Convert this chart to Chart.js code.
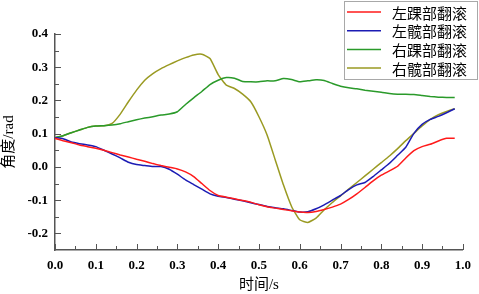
<!DOCTYPE html>
<html>
<head>
<meta charset="utf-8">
<script src="https://cdn.jsdelivr.net/npm/chart.js@4.4.0/dist/chart.umd.min.js"></script>
<style>
  html, body { margin: 0; padding: 0; background: #fff; }
  #wrap { width: 479px; height: 294px; }
</style>
</head>
<body>
<div id="wrap"><canvas id="chart"></canvas></div>
<script>
// time (s)
const times = [0, 0.02, 0.04, 0.06, 0.08, 0.10, 0.12, 0.14, 0.16, 0.18,
  0.20, 0.22, 0.24, 0.26, 0.28, 0.30, 0.32, 0.34, 0.36, 0.38,
  0.40, 0.42, 0.44, 0.46, 0.48, 0.50, 0.52, 0.54, 0.56, 0.58,
  0.60, 0.62, 0.64, 0.66, 0.68, 0.70, 0.72, 0.74, 0.76, 0.78,
  0.80, 0.82, 0.84, 0.86, 0.88, 0.90, 0.92, 0.94, 0.96, 0.98];

// angle (rad)
const leftAnkle = [0.086, 0.079, 0.073, 0.066, 0.061, 0.056, 0.050, 0.043, 0.036, 0.030,
  0.023, 0.017, 0.010, 0.004, -0.001, -0.006, -0.015, -0.029, -0.050, -0.071,
  -0.086, -0.091, -0.096, -0.101, -0.106, -0.114, -0.120, -0.124, -0.128, -0.132,
  -0.136, -0.137, -0.134, -0.128, -0.121, -0.112, -0.098, -0.081, -0.062, -0.042,
  -0.025, -0.012, 0.002, 0.027, 0.049, 0.061, 0.068, 0.078, 0.086, 0.086];

const leftHip = [0.088, 0.085, 0.075, 0.070, 0.066, 0.061, 0.050, 0.039, 0.027, 0.014,
  0.007, 0.004, 0.001, 0.001, -0.007, -0.022, -0.039, -0.053, -0.067, -0.081,
  -0.088, -0.092, -0.097, -0.102, -0.108, -0.113, -0.119, -0.123, -0.126, -0.131,
  -0.136, -0.135, -0.126, -0.114, -0.100, -0.086, -0.068, -0.054, -0.047, -0.029,
  -0.009, 0.011, 0.035, 0.059, 0.101, 0.128, 0.143, 0.152, 0.163, 0.175];

const rightAnkle = [0.088, 0.094, 0.103, 0.111, 0.119, 0.123, 0.124, 0.126, 0.130, 0.136,
  0.142, 0.147, 0.151, 0.156, 0.159, 0.166, 0.188, 0.208, 0.227, 0.248,
  0.261, 0.269, 0.267, 0.257, 0.256, 0.256, 0.259, 0.259, 0.266, 0.263,
  0.256, 0.259, 0.262, 0.260, 0.251, 0.243, 0.238, 0.235, 0.231, 0.228,
  0.225, 0.221, 0.219, 0.219, 0.218, 0.215, 0.212, 0.210, 0.209, 0.209];

const rightHip = [0.088, 0.094, 0.103, 0.111, 0.119, 0.123, 0.124, 0.131, 0.159, 0.196,
  0.231, 0.261, 0.281, 0.296, 0.308, 0.319, 0.329, 0.337, 0.339, 0.326,
  0.278, 0.246, 0.236, 0.219, 0.196, 0.151, 0.096, 0.021, -0.054, -0.119,
  -0.159, -0.167, -0.154, -0.129, -0.107, -0.087, -0.067, -0.047, -0.027, -0.007,
  0.013, 0.033, 0.055, 0.079, 0.101, 0.123, 0.143, 0.157, 0.167, 0.175];

const seriesNames = ["左踝部翻滚", "左髋部翻滚", "右踝部翻滚", "右髋部翻滚"];
const seriesColors = ["#ff1a1a", "#1c1cb4", "#2a9a2a", "#9a9a22"];

const xMajorTicks = [0, 0.1, 0.2, 0.3, 0.4, 0.5, 0.6, 0.7, 0.8, 0.9, 1.0];
const xMinorTicks = [0.05, 0.15, 0.25, 0.35, 0.45, 0.55, 0.65, 0.75, 0.85, 0.95];
const yMajorTicks = [-0.2, -0.1, 0, 0.1, 0.2, 0.3, 0.4];
const yMinorTicks = [-0.15, -0.05, 0.05, 0.15, 0.25, 0.35];

const axisColor = "#555";
const tickFont = { family: "'Liberation Serif', serif", size: 13, weight: "bold" };
const cjkFont = "'Liberation Serif', 'Noto Sans CJK SC', serif";

function toPoints(ys) {
  return times.map((t, i) => ({ x: t, y: ys[i] }));
}

// tick marks pointing into the plot
const innerTicks = {
  id: "innerTicks",
  afterDatasetsDraw(chart) {
    const { ctx, scales: { x, y }, chartArea: a } = chart;
    ctx.save();
    ctx.strokeStyle = axisColor;
    ctx.lineWidth = 1;
    ctx.beginPath();
    const xt = (vals, len) => vals.forEach((v) => {
      const px = Math.round(x.getPixelForValue(v)) + 0.5;
      ctx.moveTo(px, a.bottom);
      ctx.lineTo(px, a.bottom - len);
    });
    const yt = (vals, len) => vals.forEach((v) => {
      const py = Math.round(y.getPixelForValue(v)) + 0.5;
      ctx.moveTo(a.left, py);
      ctx.lineTo(a.left + len, py);
    });
    xt(xMajorTicks, 6); xt(xMinorTicks, 4);
    yt(yMajorTicks, 6); yt(yMinorTicks, 4);
    ctx.stroke();
    ctx.restore();
  }
};

// legend box in the top right corner
const boxLegend = {
  id: "boxLegend",
  afterDraw(chart) {
    const ctx = chart.ctx;
    const bx = 344.5, by = 1.5, bw = 133, bh = 78;
    ctx.save();
    ctx.fillStyle = "#fff";
    ctx.fillRect(bx, by, bw, bh);
    ctx.strokeStyle = "#a8a8a8";
    ctx.lineWidth = 1;
    ctx.strokeRect(bx, by, bw, bh);
    ctx.font = "15px 'Noto Sans CJK SC', sans-serif";
    ctx.textBaseline = "middle";
    ctx.fillStyle = "#000";
    chart.data.datasets.forEach((ds, i) => {
      const ry = 12 + i * 18.7;
      ctx.strokeStyle = ds.borderColor;
      ctx.lineWidth = 1.5;
      ctx.beginPath();
      ctx.moveTo(347, ry);
      ctx.lineTo(381, ry);
      ctx.stroke();
      ctx.fillText(ds.label, 392, ry + 1);
    });
    ctx.restore();
  }
};

const datasets = [leftAnkle, leftHip, rightAnkle, rightHip].map((ys, i) => ({
  label: seriesNames[i],
  data: toPoints(ys),
  borderColor: seriesColors[i],
  backgroundColor: seriesColors[i],
  borderWidth: 1.5,
  pointRadius: 0,
  tension: 0.15,
  fill: false
}));

new Chart(document.getElementById("chart"), {
  type: "line",
  data: { datasets },
  options: {
    responsive: true,
    maintainAspectRatio: false,
    animation: false,
    devicePixelRatio: 1,
    layout: { padding: { top: 34, right: 10, left: 0, bottom: 0 } },
    plugins: { legend: { display: false }, tooltip: { enabled: false } },
    scales: {
      x: {
        type: "linear",
        min: 0,
        max: 1,
        grid: { display: false, drawTicks: false },
        border: { display: true, color: axisColor, width: 1.5 },
        ticks: {
          stepSize: 0.1,
          color: "#000",
          font: tickFont,
          padding: 8,
          maxRotation: 0,
          callback: (v) => v.toFixed(1)
        },
        title: {
          display: true,
          text: "时间/s",
          color: "#000",
          font: { family: cjkFont, size: 15 },
          padding: { top: 0, bottom: 0 }
        },
        afterFit: (s) => { s.height = 44; }
      },
      y: {
        min: -0.25,
        max: 0.4,
        grid: { display: false, drawTicks: false },
        border: { display: true, color: axisColor, width: 1.5 },
        ticks: {
          stepSize: 0.1,
          includeBounds: false,
          color: "#000",
          font: tickFont,
          padding: 7,
          callback: (v) => v.toFixed(1)
        },
        title: {
          display: true,
          text: "角度/rad",
          color: "#000",
          font: { family: cjkFont, size: 15 },
          padding: { top: 0, bottom: 0 }
        },
        afterFit: (s) => { s.width = 55; }
      }
    }
  },
  plugins: [innerTicks, boxLegend]
});
</script>
</body>
</html>
